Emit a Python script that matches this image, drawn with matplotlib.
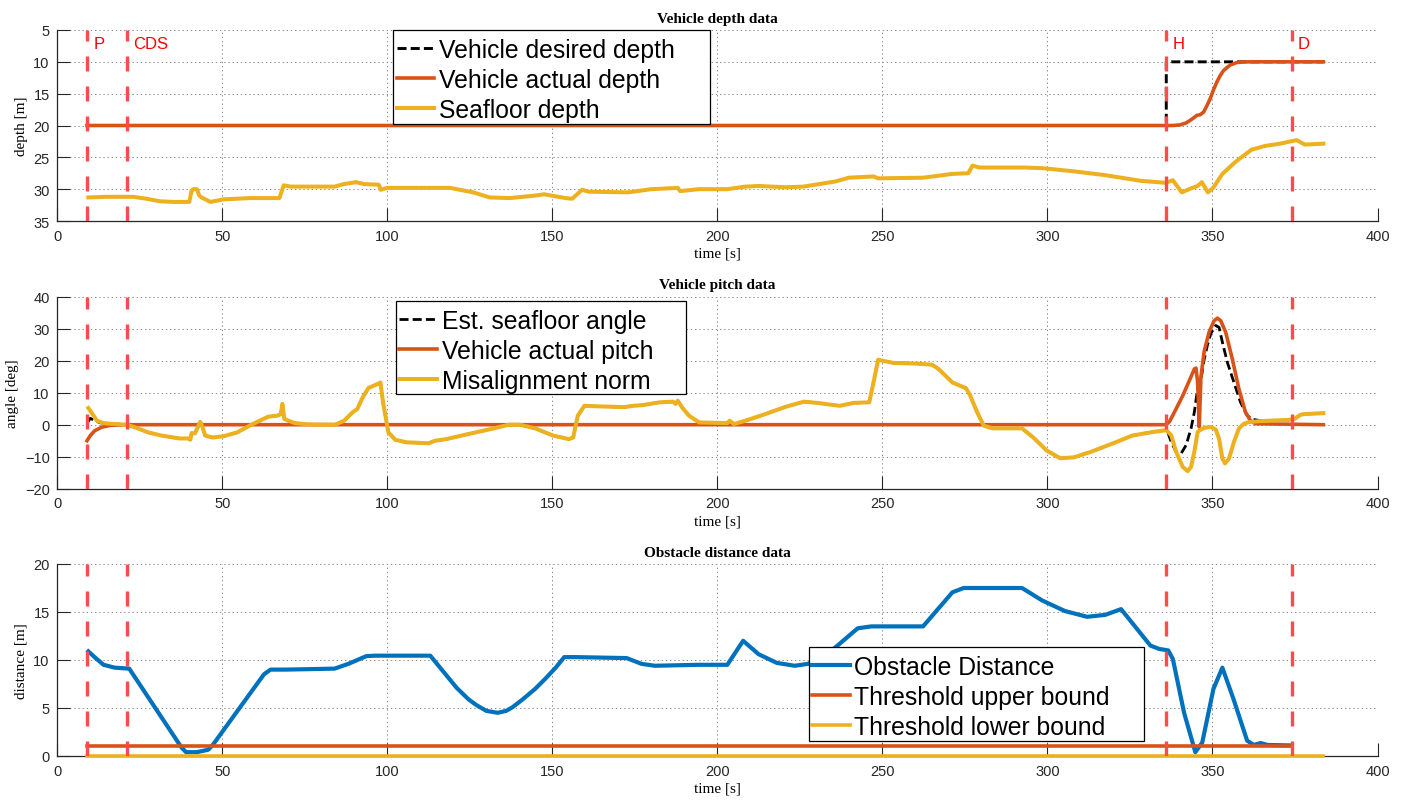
import matplotlib
matplotlib.use("Agg")
import matplotlib.pyplot as plt
from matplotlib.patches import Rectangle

plt.rcParams["lines.scale_dashes"] = False
plt.rcParams["font.family"] = ["Liberation Sans", "DejaVu Sans"]

# ---------------- phase markers ----------------
phase_times = [9, 21, 336, 374]
phase_names = ["P", "CDS", "H", "D"]

# ---------------- depth panel ----------------
desired_t = [9, 336, 336, 383.6]
desired_d = [20, 20, 10, 10]

actual_t = [9, 338, 340.2, 342, 343.2, 344.3, 345.3, 346.3, 347.3, 348.3, 349.3,
            350.3, 351.3, 352.3, 353.3, 354.4, 355.4, 357.4, 359.4, 361.4, 383.6]
actual_d = [20, 20, 19.9, 19.6, 19.2, 18.8, 18.4, 18.3, 17.9, 16.9, 15.8,
            14.4, 13.2, 12.2, 11.4, 10.9, 10.5, 10.1, 10.02, 10, 10]

seafloor_t = [9.4, 15, 23, 27, 31, 35, 40, 40.7, 41.2, 42.3, 43, 43.7, 46.4, 50.4,
              58.5, 67.3, 68.6, 70.7, 84, 86.8, 90.5, 93, 97.4, 98, 100, 119, 126,
              131, 137, 145, 147.5, 154, 156, 159, 161, 173, 180, 188, 188.7, 194.5,
              203, 208.5, 212.5, 220.7, 226, 235.7, 239.8, 247.3, 248.7, 262.3,
              271.2, 276, 277.3, 279.4, 293, 298.4, 308, 317.5, 328.4, 335.9, 338,
              340.7, 343.4, 345.5, 346.8, 348.6, 350.2, 353, 357, 361.8, 366,
              370.5, 375.5, 378, 383.6]
seafloor_d = [31.3, 31.2, 31.2, 31.5, 31.9, 32.0, 32.0, 30.2, 30.0, 30.0, 31.0, 31.3,
              32.0, 31.6, 31.4, 31.4, 29.4, 29.6, 29.6, 29.2, 28.9, 29.2, 29.3, 30.1,
              29.8, 29.8, 30.5, 31.3, 31.4, 31.0, 30.8, 31.4, 31.5, 30.1, 30.4, 30.5,
              30.0, 29.8, 30.3, 30.0, 30.0, 29.6, 29.5, 29.7, 29.6, 28.8, 28.2, 28.0,
              28.3, 28.2, 27.6, 27.5, 26.3, 26.6, 26.6, 26.7, 27.2, 27.8, 28.7, 29.0,
              28.6, 30.5, 29.9, 29.5, 28.9, 30.5, 29.8, 27.6, 25.7, 23.8, 23.2,
              22.85, 22.3, 23.0, 22.85]

# ---------------- pitch panel ----------------
# shared seafloor-angle profile while the vehicle holds zero pitch
cruise_t = [17, 18, 21, 23.5, 27.5, 31.6, 37, 39.6, 40.3, 40.7, 41.7, 42.3, 43.3,
            44, 44.8, 47, 50.4, 54.5, 59.2, 63.9, 66.6, 67.7, 68.2, 68.8, 70, 72,
            76, 84.2, 86.9, 89.5, 90.9, 92.5, 94.3, 97, 97.9, 98.7, 100.3, 102.4,
            105.7, 112.5, 114.5, 117.9, 124.6, 131.4, 136.8, 140.1, 144.8, 150.2,
            155, 156.3, 157.7, 159.7, 165, 171.8, 174.5, 177.2, 182.6, 186.6,
            187.3, 188, 189.3, 191.4, 194.5, 203, 203.7, 205, 208.5, 213.9, 220.7,
            226.2, 230.3, 237.1, 241.2, 246, 247.3, 248.7, 250, 253.4, 260.3, 265,
            267, 271.2, 275.3, 276.6, 278.7, 280.7, 283.4, 292.3, 295.7, 299.8,
            303.9, 308, 313.4, 320.2, 325.7, 331.2]
cruise_a = [0.25, 0.2, 0, -0.8, -2.4, -3.4, -4.3, -4.3, -4.7, -2.6, -2.7, -1.4, 0.9,
            -0.8, -3.4, -4.0, -3.6, -2.4, 0.2, 2.5, 2.8, 3.3, 6.5, 1.8, 1.25, 0.5,
            0.1, 0, 1.25, 3.9, 4.9, 8.5, 11.5, 12.7, 13.2, 7.0, -2.4, -4.7,
            -5.5, -5.8, -5.0, -4.5, -2.9, -1.35, 0, 0, -1.15, -3.4,
            -4.5, -4.0, 2.8, 5.9, 5.7, 5.5, 5.9, 6.1, 7.0, 7.2,
            6.5, 7.5, 5.4, 2.8, 0.7, 0.5, 1.25, 0.2, 1.25, 3.1, 5.6,
            7.2, 6.8, 5.9, 6.8, 7.0, 13.2, 20.3, 20.0, 19.3, 19.1, 18.75,
            17.4, 13.2, 11.4, 9.1, 3.9, -0.3, -1.15, -1.15, -4.0, -8.1,
            -10.5, -10.2, -8.4, -5.7, -3.4, -2.4]

angle_start_t = [9, 10, 11.5, 13, 15]
angle_start_a = [0.5, 2.0, 1.2, 0.6, 0.3]
angle_end_t = [336, 336.5, 337.5, 339, 340.5, 342, 343.5, 344.5, 345.5, 346.5, 347.5,
               348.5, 349.5, 351, 352, 353, 354.5, 356.5, 358.5, 360.5, 362, 364,
               373, 375, 376.5, 377.5, 383.6]
angle_end_a = [-1.7, -2.5, -5.4, -8.5, -9.0, -6.4, -1.2, 3.9, 11.2, 14.0, 20.5,
               25.0, 28.5, 31.0, 30.4, 25.8, 19.5, 13.3, 7.0, 2.9, 1.7, 1.35,
               1.3, 1.9, 3.0, 3.3, 3.6]

pitch_t = [9, 10, 11.3, 13.4, 16, 20.8, 336, 337, 339, 341, 343, 344.5, 345, 345.5,
           345.8, 346, 346.5, 347.5, 349, 350.5, 351.5, 352.5, 354, 356, 358, 360,
           361.5, 363, 383.6]
pitch_a = [-5, -3.4, -1.9, -0.8, -0.2, 0, 0, 1.0, 5.0, 9.1, 13.8, 17.4, 17.7, 13.3,
           5.0, -0.7, 15.0, 23.0, 29.0, 32.5, 33.3, 32.5, 28.9, 20.6, 11.2, 3.9,
           1.3, 0.3, 0]

misalign_start_t = [9.4, 10.7, 12, 14, 16]
misalign_start_a = [5.2, 3.3, 1.25, 0.5, 0.3]
misalign_end_t = [336, 337.5, 339, 341, 342.5, 343.5, 344.5, 345.5, 346, 347.5,
                  349.5, 351, 352, 353, 353.8, 355, 356.5, 358, 359.5, 361, 364,
                  373, 375, 376.5, 377.5, 383.6]
misalign_end_a = [-1.7, -3.3, -8.5, -13.2, -14.5, -13.2, -8.5, -2.3, -1.8, -1.0,
                  -0.7, -1.5, -4.4, -10.6, -12.1, -10.6, -5.4, -1.2, 0.3, 0.8, 1.1,
                  1.5, 1.9, 3.0, 3.3, 3.6]

# ---------------- obstacle panel ----------------
obstacle_t = [9.4, 11.3, 14, 17.4, 21.8, 37.6, 39, 42.3, 45.7, 47, 62.6, 64.6, 69.3,
              84, 88.2, 93.6, 96.3, 113, 117.9, 121, 124.6, 127, 130, 133.4, 136,
              138, 141, 144.8, 148, 151, 153.6, 157, 172.5, 177, 181, 194.5, 203,
              207.8, 212.5, 218, 223.4, 227.5, 232, 235.7, 242.5, 246.6, 262.3,
              271.2, 274.6, 292.3, 298.4, 305.3, 312, 317.5, 322.3, 331.2, 333.9,
              336.6, 338, 341.4, 344.8, 346.9, 350.3, 353, 356.4, 360.5, 362.5,
              364.6, 366.7, 374]
obstacle_d = [10.9, 10.3, 9.5, 9.2, 9.1, 0.9, 0.4, 0.4, 0.65, 1.1, 8.5, 9.0, 9.0,
              9.1, 9.6, 10.4, 10.45, 10.45, 8.4, 7.1, 5.9, 5.3, 4.7, 4.5, 4.7,
              5.1, 5.9, 7.0, 8.1, 9.2, 10.3, 10.3, 10.2, 9.6, 9.4, 9.5, 9.5,
              12.0, 10.6, 9.7, 9.4, 9.6, 10.4, 11.3, 13.3, 13.5, 13.5,
              17.05, 17.5, 17.5, 16.2, 15.1, 14.5, 14.7, 15.3, 11.5, 11.15,
              11.0, 10.1, 4.5, 0.4, 1.4, 7.0, 9.2, 5.9, 1.6, 1.15,
              1.35, 1.15, 1.1]
upper_t = [9, 374]
upper_d = [1, 1]
lower_t = [9, 383.6]
lower_d = [0, 0]

# ---------------- styling ----------------
BLUE = "#0072BD"
ORANGE = "#D95319"
YELLOW = "#EDB120"
MARK = "#FF4B4B"
AX_GRAY = "#262626"
W, H = 1406, 803

fig = plt.figure(figsize=(W / 100, H / 100), dpi=100)


def px_axes(top, bottom, left=57.3, right=1377.5):
    return fig.add_axes([left / W, 1 - bottom / H, (right - left) / W, (bottom - top) / H])


def style(ax, title, ylabel):
    for s in ("top", "right"):
        ax.spines[s].set_visible(False)
    for s in ("left", "bottom"):
        ax.spines[s].set_color(AX_GRAY)
        ax.spines[s].set_linewidth(0.9)
    ax.tick_params(direction="in", length=9.5, width=0.8, color=AX_GRAY,
                   labelcolor=AX_GRAY, labelsize=10.5, pad=5.5)
    ax.grid(True, color="#8c8c8c", linestyle=(0, (1, 2)), linewidth=0.7)
    ax.set_axisbelow(True)
    ax.set_xlim(0, 400)
    ax.set_xticks(range(0, 401, 50))
    ax.set_title(title, family="Liberation Serif", fontweight="bold", fontsize=11, pad=6)
    ax.set_xlabel("time [s]", family="Liberation Serif", fontsize=11, labelpad=3)
    ax.set_ylabel(ylabel, family="Liberation Serif", fontsize=11, labelpad=4)
    for t in phase_times:
        ax.axvline(t, color=MARK, lw=2.4, linestyle=(0, (10.8, 10.8)), zorder=3)


def legend_box(ax, box, handles, labels):
    x0, y0, x1, y1 = box
    ax.add_patch(Rectangle((x0 / W, 1 - y1 / H), (x1 - x0) / W, (y1 - y0) / H,
                           transform=fig.transFigure, facecolor="white",
                           edgecolor="black", lw=0.9, zorder=4.9, clip_on=False))
    leg = ax.legend(handles, labels, loc="upper left",
                    bbox_to_anchor=((x0 + 1.5) / W, 1 - (y0 + 5.5) / H),
                    bbox_transform=fig.transFigure, frameon=False, fontsize=17.8,
                    handlelength=1.5, handletextpad=0.2, borderpad=0.1,
                    labelspacing=0.24, borderaxespad=0)
    leg.set_zorder(5)
    return leg


# depth
ax1 = px_axes(31, 222)
style(ax1, "Vehicle depth data", "depth [m]")
h1, = ax1.plot(desired_t, desired_d, color="black", lw=2.1, linestyle=(0, (6.5, 3)),
               snap=False)
h2, = ax1.plot(actual_t, actual_d, color=ORANGE, lw=2.6, snap=False)
h3, = ax1.plot(seafloor_t, seafloor_d, color=YELLOW, lw=2.9)
ax1.set_ylim(35, 5)
ax1.set_yticks(range(5, 36, 5))
for t, name in zip(phase_times, phase_names):
    ax1.text(t + 1.9, 0.968, name, transform=ax1.get_xaxis_transform(), color="red",
             fontsize=12, va="top", ha="left", zorder=4)
legend_box(ax1, (393.3, 31, 710, 125), [h1, h2, h3],
           ["Vehicle desired depth", "Vehicle actual depth", "Seafloor depth"])

# pitch
ax2 = px_axes(297.7, 489.7)
style(ax2, "Vehicle pitch data", "angle [deg]")
seafloor_angle_t = angle_start_t + cruise_t + angle_end_t
seafloor_angle_a = angle_start_a + cruise_a + angle_end_a
misalign_t = misalign_start_t + cruise_t + misalign_end_t
misalign_a = misalign_start_a + cruise_a + misalign_end_a
g1, = ax2.plot(seafloor_angle_t, seafloor_angle_a, color="black", lw=2.0,
               linestyle=(0, (6.5, 3)))
g2, = ax2.plot(pitch_t, pitch_a, color=ORANGE, lw=2.6)
g3, = ax2.plot(misalign_t, misalign_a, color=YELLOW, lw=2.9)
ax2.set_ylim(-20, 40)
ax2.set_yticks(range(-20, 41, 10))
legend_box(ax2, (395.5, 301.7, 686, 395), [g1, g2, g3],
           ["Est. seafloor angle", "Vehicle actual pitch", "Misalignment norm"])

# obstacle distance
ax3 = px_axes(565, 757)
style(ax3, "Obstacle distance data", "distance [m]")
k1, = ax3.plot(obstacle_t, obstacle_d, color=BLUE, lw=3.0)
k2, = ax3.plot(upper_t, upper_d, color=ORANGE, lw=2.6)
k3, = ax3.plot(lower_t, lower_d, color=YELLOW, lw=2.6, clip_on=False, zorder=2.6)
ax3.set_ylim(0, 20)
ax3.set_yticks(range(0, 21, 5))
legend_box(ax3, (808.5, 648, 1144, 741.7), [k1, k2, k3],
           ["Obstacle Distance", "Threshold upper bound", "Threshold lower bound"])

fig.savefig("out.png", dpi=100)
